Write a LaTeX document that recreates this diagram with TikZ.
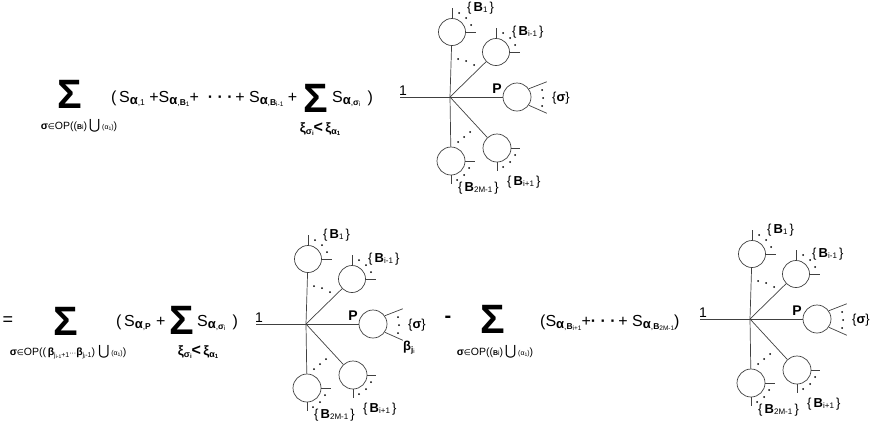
\documentclass[tikz,border=0pt]{standalone}
\usepackage{fontspec}
\setmainfont{Liberation Sans}
\newfontfamily\djv{DejaVu Sans}
\usetikzlibrary{calc}
\newcommand\lo[3]{\raisebox{-#1pt}{\fontsize{#2}{#2}\selectfont #3}}
\newcommand\SSx[1]{S\lo{2}{13}{\textbf{α}}\lo{3}{8.5}{,#1}}
\newcommand\Bsub[1]{\textbf{B}\lo{1.5}{6.5}{#1}}
\newcommand\opsub{\textbf{σ}{\djv\fontsize{8}{8}\selectfont ∈}OP((\lo{0}{7}{\textbf{B}i})\,{\djv\fontsize{14}{14}\selectfont ⋃}\,\lo{0}{7}{(α\lo{1}{5}{1})})}
\newcommand\xisub{\textbf{ξ\lo{2}{9}{σ\lo{1}{6}{i}}}{\fontsize{16}{16}\selectfont\textbf{<}}\,\textbf{ξ\lo{2}{9}{α\lo{1}{6}{1}}}}
\newcommand\blab[1]{\{\,\textbf{B}\lo{1}{8}{#1}\,\}}
\tikzset{
 ln/.style={draw=black!75, line width=0.7pt},
 circ/.style={circle, draw=black!75, line width=0.7pt, inner sep=0pt, minimum size=27pt},
 txt/.style={inner sep=0pt, font=\fontsize{16}{16}\selectfont},
 bigsum/.style={inner sep=0pt, font=\fontsize{41}{41}\selectfont\bfseries},
 subt/.style={inner sep=0pt, font=\fontsize{10.5}{10.5}\selectfont},
 xit/.style={inner sep=0pt, font=\fontsize{13.5}{13.5}\selectfont},
 lab/.style={inner sep=0pt, font=\fontsize{13}{13}\selectfont},
 onel/.style={inner sep=0pt, font=\fontsize{14}{14}\selectfont},
 dotf/.style={fill=black}
}
\newcommand\dt[1]{\fill[dotf] #1 circle[radius=1pt];}
\newcommand\mytree[3]{%
 \coordinate (#1c) at (#2,#3);
 \coordinate (#1l) at ($(#1c)+(-50,0)$);
 \draw[ln] (#1l) -- (#1c);
 \node[onel, anchor=south west] (#1one) at ($(#1l)+(-1,-1)$) {1};
 \node[circ] (#1a) at ($(#1c)+(2,-65)$) {};
 \node[circ] (#1b) at ($(#1c)+(46,-45)$) {};
 \node[circ, minimum size=28pt] (#1p) at ($(#1c)+(67,0)$) {};
 \node[circ, minimum size=28pt] (#1d) at ($(#1c)+(47,51)$) {};
 \node[circ, minimum size=28pt] (#1e) at ($(#1c)+(1,64)$) {};
 \draw[ln] (#1c) -- (#1a);
 \draw[ln] (#1c) -- (#1b);
 \draw[ln] (#1c) -- (#1p);
 \draw[ln] (#1c) -- (#1d);
 \draw[ln] (#1c) -- (#1e);
 \draw[ln] (#1a.north) -- ++(0,-10);
 \draw[ln] (#1a.east) -- ++(10,0);
 \draw[ln] (#1b.north) -- ++(0,-10);
 \draw[ln] (#1b.east) -- ++(10,0);
 \draw[ln] (#1d.east) -- ++(9,0);
 \draw[ln] (#1d.south) -- ++(0,9);
 \draw[ln] (#1e.east) -- ++(10,0);
 \draw[ln] (#1e.south) -- ++(0,9);
 \draw[ln] (#1p.35) -- ++(18,-7);
 \draw[ln] (#1p.-35) -- ++(18,8);
 \dt{($(#1a)+(7,-19)$)}\dt{($(#1a)+(14,-14)$)}\dt{($(#1a)+(19,-7)$)}
 \dt{($(#1b)+(7,-19)$)}\dt{($(#1b)+(14,-14)$)}\dt{($(#1b)+(19,-7)$)}
 \dt{($(#1d)+(6,19)$)}\dt{($(#1d)+(13,14)$)}\dt{($(#1d)+(18,7)$)}
 \dt{($(#1e)+(6,19)$)}\dt{($(#1e)+(13,14)$)}\dt{($(#1e)+(18,7)$)}
 \dt{($(#1c)+(8,-38)$)}\dt{($(#1c)+(16,-36)$)}\dt{($(#1c)+(24,-32)$)}
 \dt{($(#1c)+(8,45)$)}\dt{($(#1c)+(14,40)$)}\dt{($(#1c)+(20,35)$)}
 \dt{($(#1p)+(25,-7)$)}\dt{($(#1p)+(26,1)$)}\dt{($(#1p)+(25,9)$)}
 \node[lab, anchor=center, font=\fontsize{14}{14}\selectfont\bfseries] (#1pl) at ($(#1c)+(47,-8)$) {P};
 \node[lab, anchor=west] (#1al) at ($(#1a)+(15,-24)$) {\blab{1}};
 \node[lab, anchor=west] (#1bl) at ($(#1b)+(16,-20)$) {\blab{i-1}};
 \node[lab, anchor=west] (#1sl) at ($(#1p)+(35,1)$) {\{\textbf{σ}\}};
 \node[lab, anchor=west] (#1dl) at ($(#1d)+(10,34)$) {\blab{i+1}};
 \node[lab, anchor=west] (#1el) at ($(#1e)+(7,27)$) {\blab{2M-1}};
}
\begin{document}
\begin{tikzpicture}[x=1pt,y=-1pt]
\useasboundingbox (0,0) rectangle (872,421);
% ---- top row ----
\node[bigsum, anchor=base west] (s1) at (57,108) {Σ};
\node[subt] (s1s) at (79,126) {\opsub};
\node[txt, anchor=base west] (r1a) at (111,102) {(\,\SSx{1} +\SSx{\Bsub{1}}+\ \ \textbf{·}\ \textbf{·}\ \textbf{·}\,+\ \SSx{\Bsub{i-1}} +};
\node[bigsum, anchor=base west] (s2) at (303,112) {Σ};
\node[txt, anchor=base west] (r1b) at (332,102) {\SSx{\textbf{σ}\lo{1.5}{6.5}{i}}\ \,)};
\node[xit] (s2s) at (320,129) {\xisub};
\mytree{t}{450}{97}
% ---- bottom row ----
\node[txt, font=\fontsize{18}{18}\selectfont] (eq) at (8,321) {=};
\node[bigsum, anchor=base west] (s3) at (53,335) {Σ};
\node[subt] (s3s) at (68,352) {\textbf{σ}{\djv\fontsize{8}{8}\selectfont ∈}OP((\,\textbf{β}\lo{2}{7}{j\lo{1}{5}{i-1}+1}\lo{0}{7}{···}\textbf{β}\lo{2}{7}{j\lo{1}{5}{i}-1}) {\djv\fontsize{14}{14}\selectfont ⋃}\,\lo{0}{7}{(α\lo{1}{5}{1})})};
\node[txt, anchor=base west] (r2a) at (116,326) {(\,\SSx{\textbf{P}}};
\node[txt, anchor=base west] (r2p) at (156,326) {+};
\node[bigsum, anchor=base west] (s4) at (169,334) {Σ};
\node[txt, anchor=base west] (r2b) at (197,326) {\SSx{\textbf{σ}\lo{1.5}{6.5}{i}}\ \,)};
\node[xit] (s4s) at (198,352) {\xisub};
\mytree{u}{306}{324}
\node[lab, anchor=west] (ubeta) at ($(up)+(30,24)$) {\textbf{β}\lo{2}{8}{\textbf{j}\lo{1}{6}{i}}};
\node[txt, font=\fontsize{20}{20}\selectfont\bfseries] (minus) at (448,319) {-};
\node[bigsum, anchor=base west] (s5) at (480,333) {Σ};
\node[subt] (s5s) at (495,352) {\opsub};
\node[txt, anchor=base west] (r3) at (540,326) {(\SSx{\Bsub{i+1}}+\textbf{·}\ \textbf{·}\ \textbf{·}\,+\ \SSx{\Bsub{2M-1}})};
\mytree{v}{750}{319}
\end{tikzpicture}
\end{document}
